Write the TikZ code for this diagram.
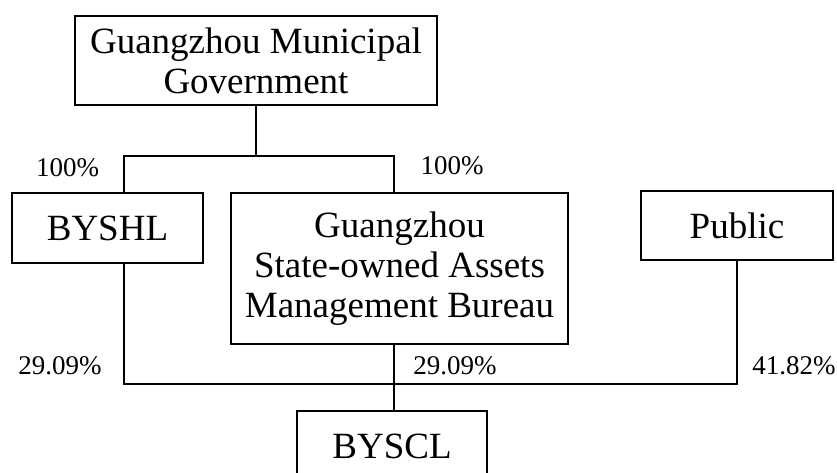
\documentclass[tikz,border=0pt]{standalone}
\usepackage{fontspec}
\setmainfont{Liberation Serif}
\usetikzlibrary{
    positioning,
    calc
  }
\tikzset{
  entity/.style={draw, line width=1.1pt, rectangle, align=center, inner sep=0pt,
    font=\fontsize{37}{40}\selectfont},
  share/.style={inner sep=0pt, font=\fontsize{27}{30}\selectfont},
  link/.style={draw, line width=1.1pt}
}

\begin{document}
\begin{tikzpicture}[x=1pt, y=-1pt]

\useasboundingbox (0,0) rectangle (837,473);

\node[entity, minimum width=362pt, minimum height=89pt] (gov) at (256,60.5) {Guangzhou Municipal\\Government};
\node[entity, minimum width=191pt, minimum height=70pt] (byshl) at (107.5,228) {BYSHL};
\node[entity, minimum width=337pt, minimum height=151pt] (samb) at (399.5,268.5) {Guangzhou\\State-owned Assets\\Management Bureau};
\node[entity, minimum width=192pt, minimum height=69pt] (public) at (737,225.5) {Public};
\node[entity, minimum width=190pt, minimum height=70pt] (byscl) at (392,446) {BYSCL};

% branch from the government
\coordinate (bus_left_top) at (124,156);
\coordinate (bus_mid_top) at (394,156);
\path[link] (gov.south) -- (gov.south |- bus_left_top);
\path[link]
  (byshl.north -| bus_left_top) -- (bus_left_top)
    -- (bus_mid_top) -- (samb.north -| bus_mid_top)
;

% holders of BYSCL
\coordinate (bus_left_bottom) at (124,384);
\coordinate (bus_right_bottom) at (public.south |- bus_left_bottom);
\path[link]
  (byshl.south -| bus_left_bottom) -- (bus_left_bottom)
    -- (bus_right_bottom) -- (public.south)
;
\path[link] (samb.south -| bus_mid_top) -- (byscl.north -| bus_mid_top);

% shares
\node[share] (share_byshl) at (67.5,168) {100\%};
\node[share] (share_samb) at (452,166) {100\%};
\node[share] (share_byshl_byscl) at (60,366) {29.09\%};
\node[share] (share_samb_byscl) at (455,366) {29.09\%};
\node[share] (share_public_byscl) at (794,366) {41.82\%};

\end{tikzpicture}
\end{document}
